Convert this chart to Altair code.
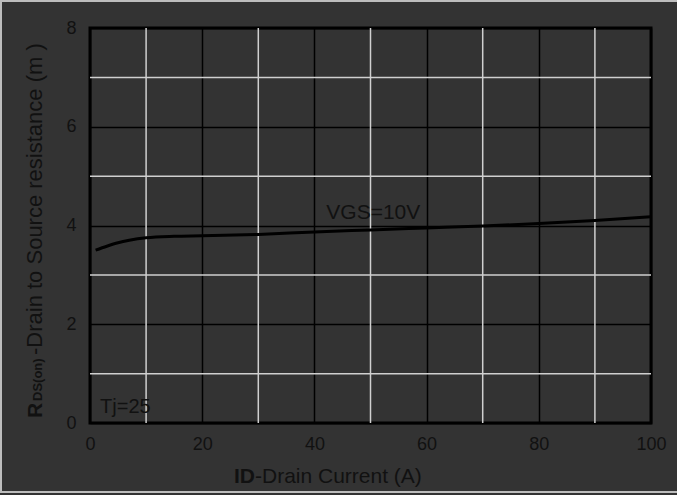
import altair as alt
import pandas as pd

# Data
current = [1, 3, 5, 7, 10, 15, 20, 30, 40, 50, 60, 70, 80, 90, 100]
rds_on = [3.50, 3.58, 3.65, 3.70, 3.75, 3.78, 3.79, 3.82, 3.87, 3.91, 3.95, 3.99, 4.04, 4.10, 4.18]
x_ticks = [0, 20, 40, 60, 80, 100]
y_ticks = [0, 2, 4, 6, 8]
minor_x = [10, 30, 50, 70, 90]
minor_y = [1, 3, 5, 7]
notes_text = ["VGS=10V", "Tj=25"]
notes_x = [50.5, 1.8]
notes_y = [4.13, 0.2]

FONT = "Liberation Sans"
DARK = "#111111"

df = pd.DataFrame({"current": current, "rds": rds_on})
xs = alt.Scale(domain=[0, 100], nice=False)
ys = alt.Scale(domain=[0, 8], nice=False)
xaxis = alt.Axis(values=x_ticks, title=None, grid=True, gridColor="black", gridWidth=1.5,
                 domain=False, ticks=False, labelPadding=12, labelFontSize=18, labelFlush=False,
                 labelColor=DARK, labelFont=FONT)
yaxis = alt.Axis(values=y_ticks, title=None, grid=True, gridColor="black", gridWidth=1.5,
                 domain=False, ticks=False, labelPadding=14, labelFontSize=18, labelFlush=False,
                 labelColor=DARK, labelFont=FONT)

line = alt.Chart(df).mark_line(color="black", strokeWidth=3, interpolate="monotone").encode(
    x=alt.X("current:Q", scale=xs, axis=xaxis),
    y=alt.Y("rds:Q", scale=ys, axis=yaxis),
)

vrules = alt.Chart(pd.DataFrame({"x": minor_x})).mark_rule(color="#d0d0d0", strokeWidth=1.5).encode(
    x=alt.X("x:Q", scale=xs, axis=xaxis)
)
hrules = alt.Chart(pd.DataFrame({"y": minor_y})).mark_rule(color="#d0d0d0", strokeWidth=1.5).encode(
    y=alt.Y("y:Q", scale=ys, axis=yaxis)
)

notes_df = pd.DataFrame({"t": notes_text, "x": notes_x, "y": notes_y})
vgs = alt.Chart(notes_df.iloc[[0]]).mark_text(font=FONT, fontSize=21, color=DARK, align="center",
                                               baseline="alphabetic").encode(
    x=alt.X("x:Q", scale=xs, axis=xaxis), y=alt.Y("y:Q", scale=ys, axis=yaxis), text="t:N")
tj = alt.Chart(notes_df.iloc[[1]]).mark_text(font=FONT, fontSize=20, color=DARK, align="left",
                                              baseline="alphabetic").encode(
    x=alt.X("x:Q", scale=xs, axis=xaxis), y=alt.Y("y:Q", scale=ys, axis=yaxis), text="t:N")

one = pd.DataFrame({"a": [0]})


def label(txt, x, y, size, bold=False, angle=0):
    kw = dict(font=FONT, fontSize=size, color=DARK, align="left", baseline="alphabetic", text=txt)
    if bold:
        kw["fontWeight"] = "bold"
    if angle:
        kw["angle"] = angle
    return alt.Chart(one).mark_text(**kw).encode(x=alt.value(x), y=alt.value(y))


y_title = [
    label("R", -48, 390, 21, bold=True, angle=270),
    label("DS(on)", -48, 373, 13, bold=True, angle=270),
    label("-Drain to Source resistance  (m   )", -48, 327, 22, angle=270),
]
x_title = [
    label("ID", 144, 455, 21, bold=True),
    label("-Drain Current  (A)", 165, 455, 21),
]

border = alt.Chart(one).mark_rect(fillOpacity=0, stroke="#bdbdbd", strokeWidth=2).encode(
    x=alt.value(-89), x2=alt.value(592), y=alt.value(-27), y2=alt.value(464)
)

chart = alt.layer(border, vrules, hrules, line, vgs, tj, *y_title, *x_title).properties(
    width=561, height=395,
    padding={"left": 90, "top": 28, "right": 26, "bottom": 72},
    autosize="none",
    background="#333333",
).configure_view(stroke="black", strokeWidth=3, fill="#333333")

chart.save("out.html", embed_options={"renderer": "svg", "actions": False})
